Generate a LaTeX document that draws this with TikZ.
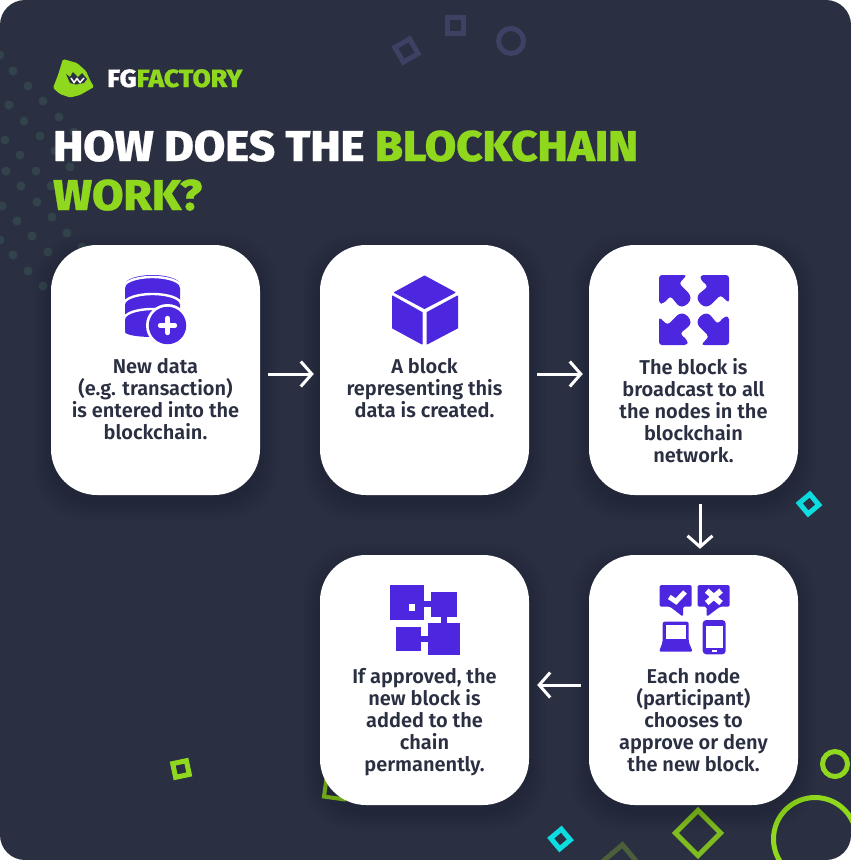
\documentclass[tikz,border=0pt]{standalone}
\usepackage{fontspec}
\usetikzlibrary{arrows.meta}
\newfontfamily\bodyfont{Fira Sans SemiBold}
\newfontfamily\headfont[FakeStretch=1.06,FakeBold=0.6]{Fira Sans ExtraBold}
\definecolor{nightbg}{HTML}{2B2F42}
\definecolor{limeink}{HTML}{8FD81E}
\definecolor{violetink}{HTML}{4D27DF}
\definecolor{dullring}{HTML}{3D4163}
\definecolor{cyanink}{HTML}{0DDCE0}
\definecolor{dotink}{HTML}{33434C}
\definecolor{olivering}{HTML}{7FBC1F}
\definecolor{mossring}{HTML}{4A5F3A}
\tikzset{
    cardbox/.style={fill=white, rounded corners=46pt, minimum width=209pt, minimum height=250pt, inner sep=0pt},
    cardtext/.style={text=nightbg, align=center, anchor=north, inner sep=0pt, font=\bodyfont\fontsize{20}{22}\selectfont},
    headline/.style={anchor=base west, inner sep=0pt, font=\headfont\fontsize{43}{49}\selectfont},
    flow/.style={draw=white, line width=3pt, -{Straight Barb[length=11pt,width=25pt,line width=3pt]}},
    iconfill/.style={fill=violetink, draw=violetink, line width=1pt, line join=round},
}
\begin{document}
\begin{tikzpicture}[x=1pt,y=-1pt]
    \useasboundingbox (0,0) rectangle (851,860);
    \fill[white] (0,0) rectangle (851,860);
    \fill[nightbg, rounded corners=25pt] (0,0) rectangle (851,860);
    \begin{scope}
        \clip[rounded corners=25pt] (0,0) rectangle (851,860);
        \foreach \dx/\dy in {0/55,13/71,28/86,43/101,59/117,74/132,9/105,24/121,40/136,55/151,70/167,5/140,20/155,36/171,51/186,65/202,6/171,21/186,37/202,52/217,67/233,82/247,2/206,17/221,32/236,48/252,0/240,13/255,28/271,43/286}
            \fill[dotink] (\dx,\dy) circle (4.5);
        \draw[dullring, line width=5pt, rotate around={30:(406.5,50.5)}] (398,42) rectangle (415,59);
        \draw[dullring, line width=5pt] (447,17) rectangle (463,33);
        \draw[dullring, line width=5pt] (511,41) circle (12.5);
        \draw[cyanink, line width=5pt, rotate around={40:(809,504)}] (802,497) rectangle (816,511);
        \draw[limeink, line width=5pt, rotate around={12:(181,769)}] (174,762) rectangle (188,776);
        \draw[olivering, line width=4pt, rotate around={-8:(335,790)}] (325,782) rectangle (345,798);
        \draw[cyanink, line width=5pt, rotate around={40:(560.5,839)}] (553.5,832) rectangle (567.5,846);
        \draw[olivering, line width=5pt, rotate around={45:(698,833)}] (682,817) rectangle (714,849);
        \draw[mossring, line width=5pt, rotate around={40:(620,873)}] (600,853) rectangle (640,893);
        \draw[limeink, line width=5pt] (835,764) circle (12.5);
        \draw[limeink, line width=5pt] (815,839) circle (41.5);
    \end{scope}
    \foreach \cx/\cy in {155.5/370,424.5/370,693.5/370,424.5/680,693.5/680}
        \foreach \g in {2,4,...,18}
            \fill[black, opacity=.012, rounded corners=50pt] (\cx-104.5-\g,\cy-125-\g+7) rectangle (\cx+104.5+\g,\cy+125+\g+7);
    \fill[limeink, rounded corners=1.5pt] (63,59) -- (77,63) -- (86,71) -- (90,80) -- (94,87) -- (80,95) -- (70,97.5) -- (60,94) -- (53,88) -- (58,75) -- cycle;
    \fill[nightbg] (66,74) -- (70,77) -- (73,72) -- (78,77) -- (82,73) -- (87,79) -- (84,83) -- (76,84.5) -- (70,83) -- cycle;
    \draw[white, line width=1.5pt] (71,78) -- (74,82.5) -- (77,78.5) -- (80,82.5) -- (84,78);
    \node[headline, font=\headfont\fontsize{25}{27}\selectfont] (brand) at (107,87) {\textcolor{white}{FG}\textcolor{limeink}{FACTORY}};
    \node[headline] (title1) at (53,161) {\textcolor{white}{HOW DOES THE} \textcolor{limeink}{BLOCKCHAIN}};
    \node[headline, text=limeink] (title2) at (53,210) {WORK?};
    \node[cardbox] (card1) at (155.5,370) {};
    \node[cardbox] (card2) at (424.5,370) {};
    \node[cardbox] (card3) at (693.5,370) {};
    \node[cardbox] (card4) at (693.5,680) {};
    \node[cardbox] (card5) at (424.5,680) {};
    \node[cardtext] (text1) at (155.5,358) {New data\\(e.g. transaction)\\is entered into the\\blockchain.};
    \node[cardtext] (text2) at (424.5,358) {A block\\representing this\\data is created.};
    \node[cardtext] (text3) at (693.5,358) {The block is\\broadcast to all\\the nodes in the\\blockchain\\network.};
    \node[cardtext] (text4) at (693.5,668) {Each node\\(participant)\\chooses to\\approve or deny\\the new block.};
    \node[cardtext] (text5) at (424.5,668) {If approved, the\\new block is\\added to the\\chain\\permanently.};
    \draw[flow] ([xshift=8pt,yshift=-4pt]card1.east) -- ([xshift=-6pt,yshift=-4pt]card2.west);
    \draw[flow] ([xshift=8pt,yshift=-4pt]card2.east) -- ([xshift=-6pt,yshift=-4pt]card3.west);
    \draw[flow] ([xshift=6.5pt,yshift=-9pt]card3.south) -- ([xshift=6.5pt,yshift=6pt]card4.north);
    \draw[flow] ([xshift=-8pt,yshift=-5pt]card4.west) -- ([xshift=8pt,yshift=-5pt]card5.east);
    % database
    \fill[violetink, rounded corners=3pt] (125,285) rectangle (180,333);
    \fill[violetink] (152.5,332) ellipse (27.5 and 5);
    \fill[violetink] (152.5,284.5) ellipse (27.5 and 9.5);
    \draw[white, line width=2.4pt] (124,287) arc[start angle=180, end angle=360, x radius=28.5, y radius=10];
    \draw[white, line width=2.4pt] (124,304) arc[start angle=180, end angle=360, x radius=28.5, y radius=10];
    \draw[white, line width=2.4pt] (124,319) arc[start angle=180, end angle=360, x radius=28.5, y radius=10];
    \fill[white] (167.5,325.5) circle (21.5);
    \fill[violetink] (167.5,325.5) circle (18.7);
    \draw[white, line width=4.4pt, line cap=round] (160,325.5) -- (175,325.5) (167.5,318) -- (167.5,333);
    % cube
    \filldraw[iconfill] (424.5,276) -- (455,292.5) -- (424.5,308.5) -- (394.5,292.5) -- cycle;
    \filldraw[iconfill] (392.5,296) -- (422,312.5) -- (422,344) -- (392.5,328) -- cycle;
    \filldraw[iconfill] (427,312.5) -- (457.5,296) -- (457.5,328) -- (427,344) -- cycle;
    % arrows
    \foreach \a in {0,90,180,270}{
        \begin{scope}[shift={(694,310)},rotate=\a]
            \fill[violetink, rounded corners=3pt] (-35,-35) -- (-7,-35) -- (-15,-26.5) -- (-3.5,-15) -- (-3.5,-9) -- (-9.5,-3.5) -- (-15,-3.5) -- (-23.5,-14) -- (-30.5,-6.5) -- (-35,-6.5) -- cycle;
        \end{scope}
    }
    % votes
    \fill[violetink, rounded corners=1.5pt] (659.7,585) -- (691.7,585) -- (691.7,606.7) -- (683,606.7) -- (683,616.7) -- (670,606.7) -- (659.7,606.7) -- cycle;
    \fill[violetink, rounded corners=1.5pt] (697.7,585) -- (729.7,585) -- (729.7,606.7) -- (720,606.7) -- (706.7,616.7) -- (706.7,606.7) -- (697.7,606.7) -- cycle;
    \draw[white, line width=5pt] (669.3,597) -- (676,601.5) -- (685,592);
    \draw[white, line width=5.5pt] (706.7,590.7) -- (721,603) (721,590.7) -- (706.7,603);
    \fill[violetink, rounded corners=2pt] (662.7,621.7) -- (688.7,621.7) -- (688.7,642) -- (692.7,651.7) -- (659,651.7) -- (662.7,642) -- cycle;
    \fill[white] (666,625) rectangle (686,638.5);
    \fill[violetink, rounded corners=3.5pt] (702.7,620) rectangle (725.7,654.3);
    \fill[white] (705.7,625.7) rectangle (722.7,648.3);
    \fill[white] (711.7,650) rectangle (717.3,652.3);
    % chain
    \fill[violetink] (389.7,585) rectangle (424.3,620);
    \fill[white] (409,604) rectangle (415.3,610.7);
    \fill[violetink] (431,591.7) rectangle (456.7,616.7);
    \fill[violetink] (424,600.7) rectangle (431.5,607.3);
    \fill[violetink] (396,627.3) rectangle (420.7,651.3);
    \fill[violetink] (427.7,623.3) rectangle (459.7,655);
    \fill[violetink] (440.7,616) rectangle (447.3,624);
    \fill[violetink] (420,636) rectangle (428,642);
\end{tikzpicture}
\end{document}
